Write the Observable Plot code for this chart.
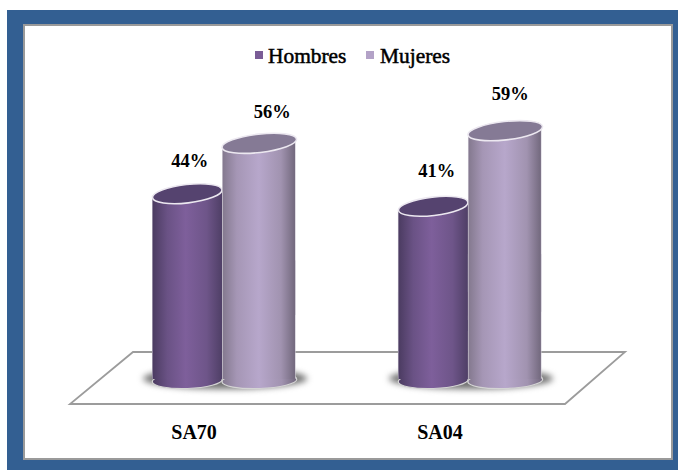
<!DOCTYPE html>
<html lang="es">
<head>
<meta charset="utf-8">
<script src="https://cdn.jsdelivr.net/npm/d3@7"></script>
<script src="https://cdn.jsdelivr.net/npm/@observablehq/plot@0.6"></script>
<style>
  html, body { margin: 0; padding: 0; background: #fff; }
  #page { position: relative; width: 678px; height: 470px; overflow: hidden; }
  #frame { position: absolute; left: 7px; top: 10px; right: 0; bottom: 0; background: #335f92; }
  #panel { position: absolute; left: 23px; top: 24px; width: 646px; height: 432px; background: #fff; border: 2px solid #9a9a9a; }
  #chart { position: absolute; left: 0; top: 0; }
  .key { position: absolute; font: 21.4px "Liberation Serif", serif; color: #000; line-height: 20px; top: 46px; -webkit-text-stroke: 0.5px #000; }
  .swatch { position: absolute; width: 8px; height: 8px; top: 51px; }
</style>
</head>
<body>
<div id="page">
  <div id="frame"></div>
  <div id="panel"></div>
  <div id="chart"></div>
  <div class="swatch" style="left:255px;background:#7a5c96"></div>
  <div class="key" style="left:268px">Hombres</div>
  <div class="swatch" style="left:366px;background:#b3a2c7"></div>
  <div class="key" style="left:380px">Mujeres</div>
</div>
<script>
// Share of men and women per group, in percent
const categories = ["SA70", "SA04"];
const series = ["Hombres", "Mujeres"];
const hombres = [44, 41];
const mujeres = [56, 59];

const rowsHombres = categories.map((c, i) => ({category: c, series: series[0], value: hombres[i]}));
const rowsMujeres = categories.map((c, i) => ({category: c, series: series[1], value: mujeres[i]}));

// Tilted ellipse as a Plot symbol, built from four Bézier arcs
function ellipse(rx, ry, degrees) {
  const t = degrees * Math.PI / 180, c = Math.cos(t), s = Math.sin(t), k = 0.5523;
  const p = (x, y) => [x * c - y * s, x * s + y * c];
  return {
    draw(ctx) {
      ctx.moveTo(...p(rx, 0));
      ctx.bezierCurveTo(...p(rx, k * ry), ...p(k * rx, ry), ...p(0, ry));
      ctx.bezierCurveTo(...p(-k * rx, ry), ...p(-rx, k * ry), ...p(-rx, 0));
      ctx.bezierCurveTo(...p(-rx, -k * ry), ...p(-k * rx, -ry), ...p(0, -ry));
      ctx.bezierCurveTo(...p(k * rx, -ry), ...p(rx, -k * ry), ...p(rx, 0));
      ctx.closePath();
    }
  };
}

// The upper body leans with the tilted top
const TILT = -6.5;
const skewed = (index, scales, values, dimensions, context, next) => {
  const g = next(index, scales, values, dimensions, context);
  d3.select(g).selectAll("rect").attr("transform", function () {
    const x = +this.getAttribute("x") + this.getAttribute("width") / 2;
    return `translate(${x},0) skewY(${TILT}) translate(${-x},0)`;
  });
  return g;
};

// One cylinder: base ellipse, shaded body in two overlapping parts, lit top
function cylinder(rows, {gradient, cap, rx, shiftX, insetLeft, insetRight}) {
  const fill = `url(#${gradient})`;
  return [
    Plot.dot(rows, {fx: "category", x: "series", y: () => 0, dx: shiftX, dy: 2,
      symbol: ellipse(rx, 8, -2), fill, stroke: "#d4d4d4", strokeWidth: 1.2}),
    Plot.barY(rows, {fx: "category", x: "series", y1: (d) => d.value / 4, y2: "value",
      fill, insetLeft, insetRight, render: skewed}),
    Plot.barY(rows, {fx: "category", x: "series", y1: () => 0, y2: (d) => d.value / 2,
      fill, insetLeft, insetRight, insetBottom: -1}),
    Plot.dot(rows, {fx: "category", x: "series", y: "value", dx: shiftX,
      symbol: ellipse(rx, 9.2, TILT), fill: cap, stroke: "#ece8f0", strokeWidth: 1.6})
  ];
}

// Percent labels, nudged per bar to sit clear of the tops
const labelShift = {44: [1, -33], 56: [11, -31], 41: [2, -35], 59: [3, -37]};
const percentLabels = [...rowsHombres, ...rowsMujeres].map((row) =>
  Plot.text([row], {
    fx: "category", x: "series", y: "value", text: (d) => `${d.value}%`,
    dx: labelShift[row.value][0], dy: labelShift[row.value][1],
    fontSize: 18.5, fontWeight: "bold", fontFamily: "Liberation Serif", fill: "#000"
  })
);

const chart = Plot.plot({
  width: 678,
  height: 470,
  marginLeft: 152,
  marginRight: 135,
  marginTop: 126,
  marginBottom: 92,
  style: {background: "transparent"},
  fx: {domain: categories, paddingInner: 0.41, paddingOuter: 0, round: false, axis: null},
  x: {domain: series, padding: 0, round: false, axis: null},
  y: {domain: [0, 60], axis: null},
  marks: [
    // Floor the cylinders stand on
    Plot.frame({
      facet: "super",
      render() {
        return d3.create("svg:path")
          .attr("d", "M133,352H625L565,404H70Z")
          .attr("fill", "#fff")
          .attr("stroke", "#9c9c9c")
          .attr("stroke-width", 1.8)
          .node();
      }
    }),
    // Soft contact shadow under each pair
    Plot.dot(categories, {
      fx: (d) => d, y: () => 0,
      symbol: ellipse(82, 10.5, 0), fill: "#707070", imageFilter: "blur(3px)"
    }),
    ...cylinder(rowsHombres, {gradient: "shade-h", cap: "#55436f", rx: 35, shiftX: -1.5, insetLeft: 0, insetRight: 2.5}),
    ...cylinder(rowsMujeres, {gradient: "shade-m", cap: "#857a95", rx: 37.5, shiftX: -2, insetLeft: -2.5, insetRight: 1.5}),
    ...percentLabels,
    Plot.text(categories, {
      fx: (d) => d, text: (d) => d, frameAnchor: "bottom", lineAnchor: "middle", dx: -31, dy: 54,
      fontSize: 20, fontWeight: "bold", fontFamily: "Liberation Serif", fill: "#000"
    })
  ]
});

// Horizontal shading that gives the bars their rounded look, with a pale rim at the edges
const defs = d3.select(chart).insert("defs", ":first-child");
const gradients = {
  "shade-h": [[0, "#cfcbd6"], [0.015, "#4c3c62"], [0.22, "#6a5285"], [0.48, "#7e5f9b"], [0.78, "#6e5589"], [1, "#4f3f66"]],
  "shade-m": [[0, "#dcd8e0"], [0.015, "#857a90"], [0.2, "#a596b5"], [0.5, "#b7a7cb"], [0.8, "#a193b0"], [0.985, "#746a7f"], [1, "#cfcbd6"]]
};
for (const [id, stops] of Object.entries(gradients)) {
  const g = defs.append("linearGradient").attr("id", id).attr("x1", 0).attr("x2", 1).attr("y1", 0).attr("y2", 0);
  for (const [o, c] of stops) g.append("stop").attr("offset", o).attr("stop-color", c);
}

document.getElementById("chart").append(chart);
</script>
</body>
</html>
